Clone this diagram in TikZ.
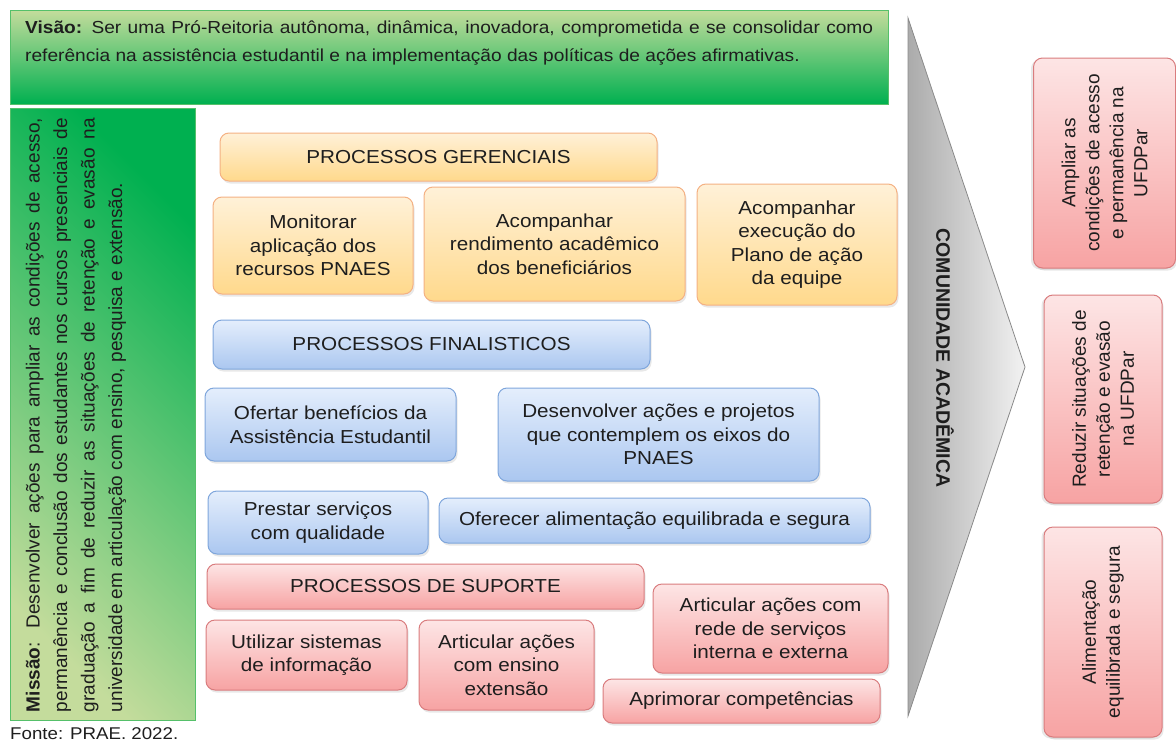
\documentclass[tikz,border=0pt]{standalone}
\usepackage{fontspec}
\setmainfont[FakeStretch=1.1]{Liberation Sans}
\newfontfamily\rotfont{Liberation Sans}
\usetikzlibrary{shadows}
\definecolor{txt}{HTML}{1E1E1E}
\definecolor{orD}{HTML}{F4B183}
\definecolor{orT}{HTML}{FFF1D8}
\definecolor{orB}{HTML}{FFD98C}
\definecolor{blD}{HTML}{7FA6DC}
\definecolor{blT}{HTML}{E4EEFC}
\definecolor{blB}{HTML}{ABC7F0}
\definecolor{rdD}{HTML}{D97C7E}
\definecolor{rdT}{HTML}{FDE5E5}
\definecolor{rdB}{HTML}{F7A3A3}
\definecolor{grL}{HTML}{C4DC9C}
\definecolor{grD}{HTML}{00B050}
\definecolor{grE}{HTML}{55C06A}
\definecolor{gyL}{HTML}{ABABAB}
\definecolor{gyR}{HTML}{F2F2F2}
\definecolor{gyE}{HTML}{8A8A8A}
\begin{document}
\begin{tikzpicture}[x=1pt,y=-1pt,
  box/.style={rounded corners=9pt, align=center, text=txt, inner sep=2pt, line width=1pt,
    font=\fontsize{18.8}{23.5}\selectfont,
    drop shadow={opacity=0.18, shadow xshift=1.5pt, shadow yshift=-2.5pt}},
  obox/.style={box, draw=orD, top color=orT, bottom color=orB},
  bbox/.style={box, draw=blD, top color=blT, bottom color=blB},
  rbox/.style={box, draw=rdD, top color=rdT, bottom color=rdB},
  vbox/.style={box, draw=rdD, top color=rdT, bottom color=rdB, rotate=90,
    drop shadow={opacity=0.18, shadow xshift=-2.5pt, shadow yshift=-1.5pt},
    font=\rotfont\fontsize{19}{24}\selectfont},
  gbox/.style={draw=grE, line width=1pt, inner sep=0pt},
]
\useasboundingbox (0,0) rectangle (1176,742);

% Vision
\node[gbox, top color=grL, bottom color=grD, minimum width=878, minimum height=94] (vis) at (449,57) {};
\node[anchor=north west, text width=848, align=justify, inner sep=0pt, text=txt,
  font=\fontsize{17.4}{28}\selectfont] (vist) at (25,20.5)
  {\textbf{Visão:} Ser uma Pró-Reitoria autônoma, dinâmica, inovadora, comprometida e se consolidar como\linebreak
   referência na assistência estudantil e na implementação das políticas de ações afirmativas.};

% Mission
\node[gbox, top color=grD, bottom color=grL, shading angle=-45, minimum width=185, minimum height=612] (mis) at (102.5,414) {};
\node[rotate=90, text width=594, align=justify, inner sep=0pt, text=txt,
  font=\rotfont\fontsize{19}{27.5}\selectfont] (mist) at (76,415)
  {\textbf{Missão}: Desenvolver ações para ampliar as condições de acesso,\linebreak
   permanência e conclusão dos estudantes nos cursos presenciais de\linebreak
   graduação a fim de reduzir as situações de retenção e evasão na\linebreak
   universidade em articulação com ensino, pesquisa e extensão.};

\node[anchor=west, inner sep=0pt, text=txt, font=\fontsize{17}{20}\selectfont] (fonte) at (10,734) {Fonte: PRAE. 2022.};

% Gray arrow
\path[draw=gyE, line width=0.8pt, left color=gyL, right color=gyR] (908,18) -- (1025,367) -- (908,716) -- cycle;
\node[rotate=-90, inner sep=0pt, text=txt, font=\rotfont\bfseries\fontsize{19.5}{22}\selectfont] (com) at (945,358) {COMUNIDADE ACADÊMICA};

% Right boxes
\node[vbox, minimum width=210, minimum height=142] (r1) at (1104.5,163) {Ampliar as\\condições de acesso\\e permanência na\\UFDPar};
\node[vbox, minimum width=208, minimum height=118] (r2) at (1103,399) {Reduzir situações de\\retenção e evasão\\na UFDPar};
\node[vbox, minimum width=210, minimum height=118] (r3) at (1103,632) {Alimentação\\equilibrada e segura};

% Orange
\node[obox, minimum width=437, minimum height=48] (pg) at (438.5,157) {PROCESSOS GERENCIAIS};
\node[obox, minimum width=200, minimum height=97] (mon) at (313,245.5) {Monitorar\\aplicação dos\\recursos PNAES};
\node[obox, minimum width=261, minimum height=114] (acr) at (554.5,244) {Acompanhar\\rendimento acadêmico\\dos beneficiários};
\node[obox, minimum width=200, minimum height=121] (ace) at (797,244.5) {Acompanhar\\execução do\\Plano de ação\\da equipe};

% Blue
\node[bbox, minimum width=437, minimum height=49] (pf) at (431.5,344.5) {PROCESSOS FINALISTICOS};
\node[bbox, minimum width=251, minimum height=73] (ofe) at (330.5,424.5) {Ofertar benefícios da\\Assistência Estudantil};
\node[bbox, minimum width=321, minimum height=93] (des) at (658.5,434.5) {Desenvolver ações e projetos\\que contemplem os eixos do\\PNAES};
\node[bbox, minimum width=220, minimum height=63] (pre) at (318,522.5) {Prestar serviços\\com qualidade};
\node[bbox, minimum width=431, minimum height=45] (ofa) at (654.5,520.5) {Oferecer alimentação equilibrada e segura};

% Red
\node[rbox, minimum width=437, minimum height=45] (ps) at (425.5,586.5) {PROCESSOS DE SUPORTE};
\node[rbox, minimum width=201, minimum height=70] (uti) at (306.5,655) {Utilizar sistemas\\de informação};
\node[rbox, minimum width=175, minimum height=90] (art) at (506.5,665) {Articular ações\\com ensino\\extensão};
\node[rbox, minimum width=235, minimum height=89] (rede) at (770.5,628.5) {Articular ações com\\rede de serviços\\interna e externa};
\node[rbox, minimum width=277, minimum height=44] (apr) at (741.5,701) {Aprimorar competências};
\end{tikzpicture}
\end{document}
